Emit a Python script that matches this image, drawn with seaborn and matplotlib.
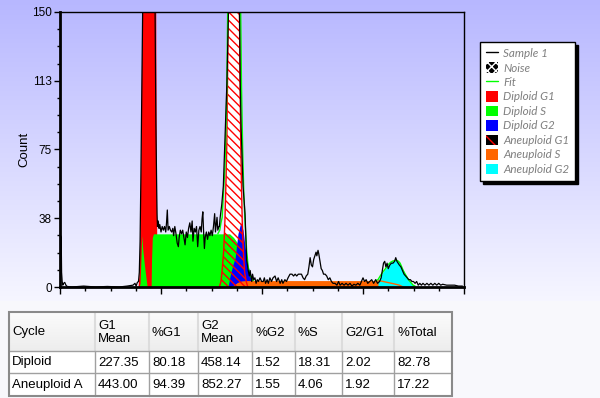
import numpy as np
import matplotlib
matplotlib.use("Agg")
import matplotlib.pyplot as plt
import seaborn as sns
from matplotlib.patches import Patch, Rectangle
from matplotlib.lines import Line2D
from matplotlib.ticker import FixedLocator, MultipleLocator
from matplotlib.font_manager import FontProperties

# ---------------- data (channel, count) ----------------
sample_ch = [0, 1.5, 3, 4, 5.5, 7, 9, 12, 15, 18, 30, 60, 90, 120, 150, 170, 185, 190, 193, 196, 199,
             201, 203, 205, 207, 209, 210, 212, 236, 239, 241, 243, 244, 245, 246, 247, 249, 251, 253,
             256, 259, 262, 265, 268, 270, 272, 274, 277, 280, 283, 286, 288, 291, 294, 297, 300, 302,
             305, 308, 311, 314, 317, 320, 323, 326, 329, 332, 335, 337, 340, 343, 346, 349, 352, 355,
             358, 360, 362, 364, 366, 368, 371, 374, 377, 380, 383, 386, 389, 392, 394, 396, 398, 400,
             403, 404, 406, 410, 414, 418, 423, 427, 429, 453, 455, 457, 459, 464, 469, 473, 477, 480,
             482, 486, 488, 491, 494, 497, 500, 503, 507, 511, 515, 518, 521, 525, 528, 532, 536, 540,
             545, 549, 553, 558, 562, 565, 570, 574, 578, 583, 588, 592, 596, 600, 604, 608, 612, 616,
             620, 624, 628, 631, 634, 637, 640, 643, 646, 649, 651, 654, 656, 659, 662, 665, 668, 672,
             676, 680, 684, 688, 692, 697, 702, 706, 710, 715, 720, 725, 730, 735, 740, 745, 750, 755,
             760, 764, 768, 772, 776, 780, 785, 790, 795, 800, 805, 810, 814, 817, 820, 823, 826, 829,
             832, 836, 840, 844, 848, 851, 854, 857, 860, 864, 868, 872, 876, 880, 884, 888, 892, 896,
             900, 904, 908, 912, 916, 920, 925, 930, 935, 940, 945, 950, 955, 960, 965, 970, 980, 990,
             1000, 1010, 1020]
sample_ct = [0.5, 28, 27, 8, 3, 1, 2, 2.5, 1, 0.3, 0, 0.5, 0, 0.3, 0, 0.5, 1, 2, 0.5, 2.5, 3,
             8, 25, 60, 100, 140, 160, 300, 300, 160, 150, 90, 70, 55, 40, 33, 36, 32, 34,
             30, 33, 31, 33, 30, 35, 42, 31, 33, 31, 30, 32, 28, 33, 29, 24, 22, 27,
             31, 29, 31, 27, 23, 30, 27, 32, 35, 30, 36, 25, 32, 30, 33, 22, 31, 33,
             30, 37, 41, 30, 21, 27, 30, 26, 30, 28, 31, 28, 33, 40, 30, 34, 38, 31,
             33, 33, 38, 45, 55, 80, 111, 150, 300, 300, 150, 110, 87, 55, 40, 15, 9, 6,
             9, 3, 7, 4, 5, 2, 4, 3, 5, 3, 3, 5, 2, 4, 2, 5, 3, 5,
             6, 3, 5, 2, 4, 2, 4, 3, 5, 7, 7, 6, 7, 6, 7, 7, 7, 5,
             4, 6, 7, 11, 16, 12, 11, 15, 17, 19, 17, 20, 18, 14, 10, 9, 7, 7,
             6, 4, 5, 3, 2, 2, 1, 3, 1, 2, 1, 2, 1, 2, 0.5, 1.5, 1, 2,
             1, 3, 5, 3, 4, 2, 3, 4, 2, 4, 2, 3, 5, 9, 13, 14, 11, 13,
             10, 12, 13, 13, 14, 16, 14, 13, 12, 11, 9, 7, 6, 5, 4, 4, 3, 3,
             2, 3, 1, 2, 1, 2, 1, 2, 1, 2, 1, 2, 1, 2, 1, 1.5, 1, 1,
             1, 0.5, 0.5]

# fit curve, only where it shows (aneuploid G1 region and aneuploid G2 region)
fit_g1_ch = [400, 405, 408, 411, 414, 418, 421, 423, 425, 427, 455, 458, 460, 463, 466, 469, 473,
             477, 482, 490]
fit_g1_ct = [29, 31, 35, 38, 50, 65, 90, 109, 150, 300, 300, 150, 110, 75, 50, 36, 20, 11, 6, 3.5]
fit_g2_ch = [800, 806, 813, 819, 825, 831, 838, 844, 853, 858, 862, 866, 870, 875, 879, 883, 887,
             891, 895, 900]
fit_g2_ct = [3.5, 4, 6.5, 8.4, 10, 12, 13.5, 14.2, 14.6, 14, 13, 11, 9, 7, 5.6, 4, 3, 2, 1, 0.5]

dip_g1_ch = [199, 201, 203, 205, 207, 209, 211, 241, 244, 245, 246, 247, 248]
dip_g1_ct = [0, 5, 20, 50, 100, 150, 300, 300, 150, 80, 40, 10, 0]

dip_s_ch = [200, 203, 206, 207, 210, 214, 218, 221, 231, 232, 234, 237, 430, 440, 450, 460, 468,
            475, 482, 488]
dip_s_ct = [0, 2, 20, 28, 20, 12, 5, 0, 0, 15, 27, 29, 29, 27, 24, 20, 15, 8, 3, 0]

dip_g2_ch = [426, 431, 438, 444, 451, 458, 464, 469, 477, 486, 490]
dip_g2_ct = [0, 6, 12, 16, 29, 35, 31, 22, 11, 5, 0]

aneu_g1_ch = [404, 408, 411, 415, 418, 421, 423, 425, 427, 430, 451, 454, 456, 458, 460, 462, 465,
              468, 472, 476]
aneu_g1_ct = [0, 3, 9, 20, 36, 60, 80, 121, 170, 300, 300, 170, 121, 80, 55, 35, 18, 8, 3, 0]

aneu_s_ch = [430, 440, 450, 460, 470, 800, 806, 815, 830, 845, 860, 870]
aneu_s_ct = [0, 1, 2.5, 3.3, 3.5, 3.5, 3.4, 3.2, 2.5, 1.8, 1.0, 0]

aneu_g2_ch = [806, 813, 819, 825, 831, 838, 844, 853, 858, 862, 866, 870, 875, 879, 883, 887, 891,
              895, 900]
aneu_g2_ct = [3.4, 6, 8.4, 10, 12, 13.5, 14.2, 14.6, 14, 13, 11, 9, 7, 5.6, 4, 3, 2, 1, 0]

x_major = [0, 256, 512, 768, 1024]
y_major = [0, 37.5, 75, 112.5, 150]
y_labels = ["0", "38", "75", "113", "150"]

legend_labels = ["Sample 1", "Noise", "Fit", "Diploid G1", "Diploid S", "Diploid G2",
                 "Aneuploid G1", "Aneuploid S", "Aneuploid G2"]

table_header = ["Cycle", "G1\nMean", "%G1", "G2\nMean", "%G2", "%S", "G2/G1", "%Total"]
table_rows = [
    ["Diploid", "227.35", "80.18", "458.14", "1.52", "18.31", "2.02", "82.78"],
    ["Aneuploid A", "443.00", "94.39", "852.27", "1.55", "4.06", "1.92", "17.22"],
]

# ---------------- styling ----------------
sns.set_theme(style="ticks")
plt.rcParams["font.family"] = ["Liberation Sans", "DejaVu Sans"]
plt.rcParams["hatch.linewidth"] = 1.0

W, H = 600, 398
fig = plt.figure(figsize=(W / 100, H / 100), dpi=100)

# background gradient
bg = fig.add_axes([0, 0, 1, 1], zorder=-10)
rows = np.arange(H)
t = np.clip(rows / 300.0, 0, 1)
top = np.array([183, 183, 255]) / 255.0
bot = np.array([246, 246, 255]) / 255.0
col = top[None, :] * (1 - t[:, None]) + bot[None, :] * t[:, None]
col[rows > 300] = np.array([248, 248, 252]) / 255.0
img = np.repeat(col[:, None, :], 4, axis=1)
bg.imshow(img, aspect="auto", extent=[0, 1, 0, 1], origin="upper")
bg.set_axis_off()

ax = fig.add_axes([60 / W, 1 - 287 / H, 404 / W, 275 / H])
ax.patch.set_alpha(0)

RED, GREEN, BLUE = "#ff0000", "#00ff00", "#0000ff"
ORANGE, CYAN = "#ff6600", "#00ffff"

ax.fill_between(dip_g1_ch, dip_g1_ct, color=RED, lw=0, zorder=1)
ax.fill_between(aneu_g1_ch, aneu_g1_ct, color="white", lw=0, zorder=1)
ax.fill_between(dip_s_ch, dip_s_ct, color=GREEN, lw=0, zorder=2)
ax.fill_between(dip_g2_ch, dip_g2_ct, color=BLUE, lw=0, zorder=3)
ax.fill_between(aneu_s_ch, aneu_s_ct, color=ORANGE, lw=0, zorder=4)
ax.fill_between(aneu_g1_ch, aneu_g1_ct, facecolor="none", edgecolor=RED, hatch="\\\\\\\\",
                lw=0, zorder=5)
ax.plot(aneu_g1_ch, aneu_g1_ct, color=RED, lw=1, zorder=5)
ax.fill_between(aneu_g2_ch, aneu_g2_ct, color=CYAN, lw=0, zorder=6)
ax.plot(aneu_s_ch[6:], aneu_s_ct[6:], color=ORANGE, lw=1, zorder=6)

sns.lineplot(x=fit_g1_ch, y=fit_g1_ct, ax=ax, color=GREEN, lw=1, sort=False, estimator=None,
             zorder=7)
sns.lineplot(x=fit_g2_ch, y=fit_g2_ct, ax=ax, color=GREEN, lw=1, sort=False, estimator=None,
             zorder=7)
sns.lineplot(x=sample_ch, y=sample_ct, ax=ax, color="black", lw=0.9, sort=False, estimator=None,
             zorder=8)

ax.set_xlim(0, 1024)
ax.set_ylim(0, 150)
ax.xaxis.set_major_locator(FixedLocator(x_major))
ax.xaxis.set_minor_locator(MultipleLocator(64))
ax.set_xticklabels([])
ax.set_yticks(y_major)
ax.set_yticklabels(y_labels)
ax.yaxis.set_minor_locator(MultipleLocator(9.375))
ax.tick_params(axis="x", which="major", direction="out", length=5, width=1, color="black")
ax.tick_params(axis="x", which="minor", direction="out", length=3, width=1, color="black")
ax.tick_params(axis="y", which="major", direction="out", length=4, width=1, color="black",
               labelsize=8.5, pad=2, labelcolor="black")
ax.tick_params(axis="y", which="minor", direction="out", length=2, width=1, color="black")
for s in ["left", "bottom"]:
    ax.spines[s].set_linewidth(2)
for s in ["top", "right"]:
    ax.spines[s].set_linewidth(1)
for s in ax.spines.values():
    s.set_color("black")
    s.set_zorder(20)
    s.set_visible(True)
ax.set_xlabel("")
ax.set_ylabel("Count", fontsize=9.5, color="black", labelpad=1)

# legend
handles = [
    Line2D([0], [0], color="black", lw=1),
    Patch(facecolor="black", edgecolor="white", hatch="xxxx", lw=0),
    Line2D([0], [0], color=GREEN, lw=1),
    Patch(facecolor=RED, lw=0),
    Patch(facecolor=GREEN, lw=0),
    Patch(facecolor=BLUE, lw=0),
    Patch(facecolor="black", edgecolor=RED, hatch="\\\\", lw=0),
    Patch(facecolor=ORANGE, lw=0),
    Patch(facecolor=CYAN, lw=0),
]
leg_font = FontProperties(family="Lato", style="italic", size=8.4)
leg = ax.legend(handles, legend_labels, loc="upper left",
                bbox_to_anchor=(480 / W, 1 - 42 / H), bbox_transform=fig.transFigure,
                borderaxespad=0, prop=leg_font, frameon=True, fancybox=False,
                shadow={"color": "black", "alpha": 1}, handlelength=1.0, handleheight=1.0,
                handletextpad=0.5, labelspacing=0.28, borderpad=0.5)
leg.get_frame().set_edgecolor("black")
leg.get_frame().set_linewidth(1)
leg.get_frame().set_facecolor("white")
for txt in leg.get_texts():
    txt.set_color("#7f7f7f")
leg.set_zorder(30)

# table
tax = fig.add_axes([0, 0, 1, 1], zorder=5)
tax.set_xlim(0, W)
tax.set_ylim(H, 0)
tax.set_axis_off()
col_x = [9, 95, 149, 198, 252, 295, 342, 394, 452]
row_y = [312, 351, 373, 396]
tfont = dict(fontsize=9.5, color="black", family=["Liberation Sans", "DejaVu Sans"])
# header background (light vertical gradient)
hdr = np.linspace(0.985, 0.93, 20)[:, None, None] * np.ones((20, 2, 3))
tax.imshow(hdr, extent=[col_x[0], col_x[-1], row_y[1], row_y[0]], aspect="auto", zorder=0)
tax.set_xlim(0, W)
tax.set_ylim(H, 0)
tax.add_patch(Rectangle((col_x[0], row_y[1]), col_x[-1] - col_x[0], row_y[-1] - row_y[1],
                        facecolor="white", edgecolor="none", zorder=0))
for i in range(1, len(col_x) - 1):
    tax.plot([col_x[i], col_x[i]], [row_y[0], row_y[1]], color="#dcdcdc", lw=1.5, zorder=1)
    tax.plot([col_x[i], col_x[i]], [row_y[1], row_y[-1]], color="#a0a0a0", lw=1, zorder=1)
for j in range(1, len(row_y) - 1):
    tax.plot([col_x[0], col_x[-1]], [row_y[j], row_y[j]], color="#a0a0a0", lw=1, zorder=1)
tax.add_patch(Rectangle((col_x[0], row_y[0]), col_x[-1] - col_x[0], row_y[-1] - row_y[0],
                        facecolor="none", edgecolor="#8a8a8a", lw=1.5, zorder=2))
for i, h in enumerate(table_header):
    tax.text(col_x[i] + 3, (row_y[0] + row_y[1]) / 2 + 1, h, ha="left", va="center",
             linespacing=1.05, zorder=3, **tfont)
for r, rowvals in enumerate(table_rows):
    for i, v in enumerate(rowvals):
        tax.text(col_x[i] + 3, (row_y[r + 1] + row_y[r + 2]) / 2 + 0.5, v, ha="left",
                 va="center", zorder=3, **tfont)

fig.savefig("out.png", dpi=100)
